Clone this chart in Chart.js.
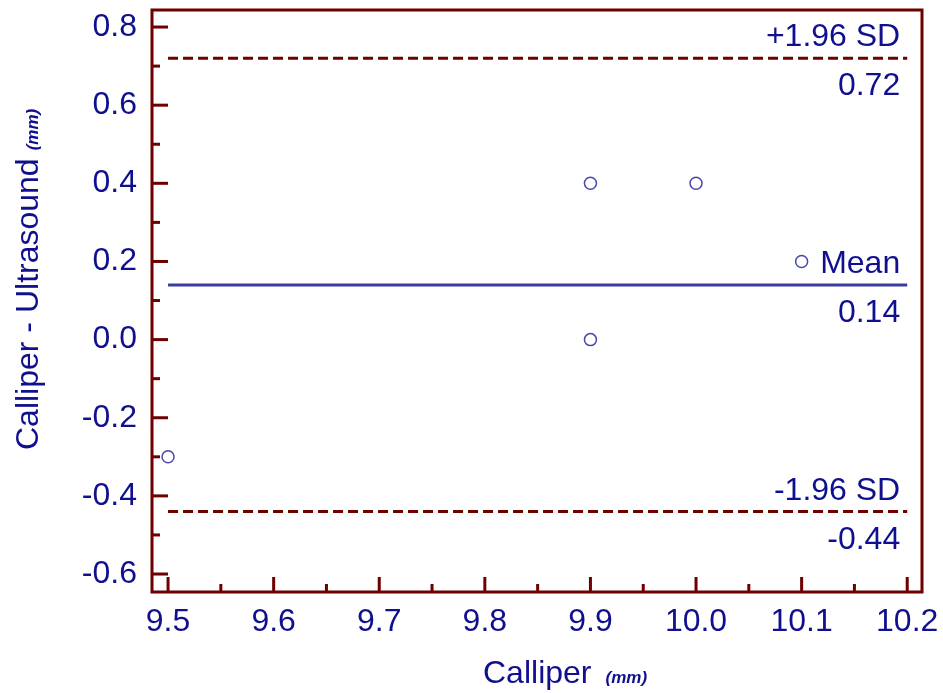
<!DOCTYPE html>
<html>
<head>
<meta charset="utf-8">
<script src="https://cdn.jsdelivr.net/npm/chart.js@4.4.1/dist/chart.umd.min.js"></script>
<style>
  html, body { margin: 0; padding: 0; background: #fff; }
  #wrap { width: 943px; height: 693px; }
</style>
</head>
<body>
<div id="wrap"><canvas id="ba"></canvas></div>
<script>
// -----------------------------------------------------------------------------
// DATA
// -----------------------------------------------------------------------------
const calliper = [9.5, 9.9, 9.9, 10.0, 10.1];
const difference = [-0.3, 0.4, 0.0, 0.4, 0.2];

const meanDiff = 0.14;
const upperLimit = 0.72;
const lowerLimit = -0.44;
const lineRange = [9.5, 10.2];

const xTicks = [9.5, 9.6, 9.7, 9.8, 9.9, 10.0, 10.1, 10.2];
const yTicks = [-0.6, -0.4, -0.2, 0.0, 0.2, 0.4, 0.6, 0.8];

const MAROON = '#6e0000';
const NAVY = '#10108f';
const LINE_BLUE = '#3c3ca0';
const FONT = '"Liberation Sans", Arial, sans-serif';

// -----------------------------------------------------------------------------
// FRAME + INWARD TICKS + LINE LABELS + AXIS TITLES
// -----------------------------------------------------------------------------
const framePlugin = {
  id: 'frame',
  afterDraw(chart) {
    const { ctx, chartArea: a, scales: { x, y } } = chart;
    ctx.save();
    ctx.strokeStyle = MAROON;
    ctx.lineWidth = 3;
    ctx.strokeRect(a.left, a.top, a.right - a.left, a.bottom - a.top);

    // ticks pointing inwards, minor halfway between majors
    xTicks.forEach((v, i) => {
      const px = x.getPixelForValue(v);
      ctx.beginPath(); ctx.moveTo(px, a.bottom); ctx.lineTo(px, a.bottom - 15); ctx.stroke();
      if (i < xTicks.length - 1) {
        const m = x.getPixelForValue((v + xTicks[i + 1]) / 2);
        ctx.beginPath(); ctx.moveTo(m, a.bottom); ctx.lineTo(m, a.bottom - 8); ctx.stroke();
      }
    });
    yTicks.forEach((v, i) => {
      const py = y.getPixelForValue(v);
      ctx.beginPath(); ctx.moveTo(a.left, py); ctx.lineTo(a.left + 16, py); ctx.stroke();
      if (i < yTicks.length - 1) {
        const m = y.getPixelForValue((v + yTicks[i + 1]) / 2);
        ctx.beginPath(); ctx.moveTo(a.left, m); ctx.lineTo(a.left + 8, m); ctx.stroke();
      }
    });

    // labels for mean / limits
    ctx.fillStyle = NAVY;
    ctx.font = '32px ' + FONT;
    ctx.textAlign = 'right';
    ctx.textBaseline = 'alphabetic';
    const rx = x.getPixelForValue(lineRange[1]) - 7;
    const lab = (val, txt) => {
      const py = y.getPixelForValue(val);
      ctx.fillText(txt, rx, py - 12);
      ctx.fillText(val.toFixed(2), rx, py + 37);
    };
    lab(upperLimit, '+1.96 SD');
    lab(meanDiff, 'Mean');
    lab(lowerLimit, '-1.96 SD');

    // x axis title
    const big = '32px ' + FONT;
    const small = 'italic bold 17px ' + FONT;
    ctx.textAlign = 'left';
    ctx.font = big;
    const w1 = ctx.measureText('Calliper').width;
    ctx.font = small;
    const w2 = ctx.measureText('(mm)').width;
    let sx = 483;
    ctx.font = big;
    ctx.fillText('Calliper', sx, 683);
    ctx.font = small;
    ctx.fillText('(mm)', sx + w1 + 14, 683);

    // y axis title
    ctx.translate(38, 0);
    ctx.rotate(-Math.PI / 2);
    ctx.font = big;
    const w3 = ctx.measureText('Calliper - Ultrasound').width;
    sx = -450;
    ctx.fillText('Calliper - Ultrasound', sx, 0);
    ctx.font = small;
    ctx.fillText('(mm)', sx + w3 + 8, 0);
    ctx.restore();
  }
};

// -----------------------------------------------------------------------------
// CHART
// -----------------------------------------------------------------------------
const hLine = (val, color, dash) => ({
  data: lineRange.map(v => ({ x: v, y: val })),
  showLine: true,
  borderColor: color,
  borderWidth: 3,
  borderDash: dash,
  pointRadius: 0,
  fill: false
});

new Chart(document.getElementById('ba'), {
  type: 'scatter',
  data: {
    datasets: [
      {
        data: calliper.map((c, i) => ({ x: c, y: difference[i] })),
        pointStyle: 'circle',
        pointRadius: 6,
        pointBorderWidth: 1.5,
        pointBorderColor: '#4848a8',
        pointBackgroundColor: 'rgba(0,0,0,0)'
      },
      hLine(upperLimit, MAROON, [10, 5]),
      hLine(meanDiff, LINE_BLUE, []),
      hLine(lowerLimit, MAROON, [10, 5])
    ]
  },
  options: {
    responsive: true,
    maintainAspectRatio: false,
    animation: false,
    layout: { padding: { top: 10, right: 21, left: 0, bottom: 0 } },
    plugins: { legend: { display: false }, tooltip: { enabled: false } },
    scales: {
      x: {
        type: 'linear',
        min: 9.4848,
        max: 10.214,
        afterBuildTicks: s => { s.ticks = xTicks.map(v => ({ value: v })); },
        afterFit: s => { s.height = 101; s.paddingLeft = 0; s.paddingRight = 0; },
        grid: { display: false, drawTicks: false },
        border: { display: false },
        ticks: {
          padding: 11,
          color: NAVY,
          font: { family: FONT, size: 32 },
          callback: v => v.toFixed(1)
        }
      },
      y: {
        type: 'linear',
        min: -0.646,
        max: 0.8436,
        afterBuildTicks: s => { s.ticks = yTicks.map(v => ({ value: v })); },
        afterFit: s => { s.width = 152; s.paddingTop = 0; s.paddingBottom = 0; },
        grid: { display: false, drawTicks: false },
        border: { display: false },
        ticks: {
          padding: 15,
          color: NAVY,
          font: { family: FONT, size: 32 },
          callback: v => v.toFixed(1)
        }
      }
    }
  },
  plugins: [framePlugin]
});
</script>
</body>
</html>
